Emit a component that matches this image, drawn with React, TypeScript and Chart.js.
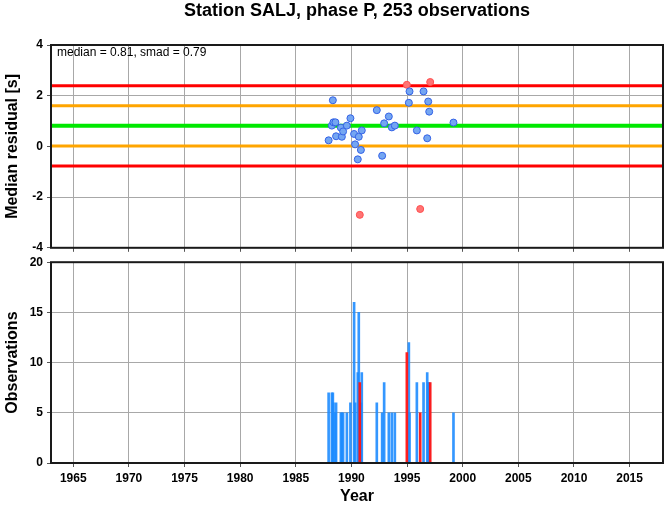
import React, { useEffect, useRef } from 'react';
import { Chart, registerables } from 'chart.js';

Chart.register(...registerables);

const TITLE = 'Station SALJ, phase P, 253 observations';
const MEDIAN = 0.81;
const SMAD = 0.79;
const X_MIN = 1963;
const X_MAX = 2018;

const yearTicks = [1965, 1970, 1975, 1980, 1985, 1990, 1995, 2000, 2005, 2010, 2015];
const residualTicks = [-4, -2, 0, 2, 4];
const countTicks = [0, 5, 10, 15, 20];

const blueYears = [1987.95, 1988.24, 1988.33, 1988.38, 1988.56, 1988.62, 1989.05, 1989.14, 1989.25, 1989.59, 1989.91, 1990.24, 1990.33, 1990.57, 1990.66, 1990.85, 1990.93, 1992.28, 1992.76, 1992.94, 1993.36, 1993.63, 1993.9, 1995.16, 1995.22, 1995.88, 1996.48, 1996.81, 1996.9, 1996.99, 1999.17];
const blueResiduals = [0.24, 0.82, 1.82, 0.95, 0.95, 0.40, 0.74, 0.38, 0.59, 0.82, 1.11, 0.49, 0.08, -0.51, 0.38, -0.14, 0.63, 1.43, -0.37, 0.91, 1.18, 0.75, 0.82, 1.72, 2.17, 0.63, 2.17, 0.32, 1.77, 1.37, 0.94];
const blueCounts = [7, 7, 7, 6, 5, 6, 5, 5, 5, 5, 6, 16, 6, 9, 15, 6, 9, 6, 5, 8, 5, 5, 5, 12, 5, 8, 8, 9, 8, 8, 5];

const redYears = [1990.75, 1994.98, 1996.18, 1997.08];
const redResiduals = [-2.70, 2.43, -2.47, 2.54];
const redCounts = [8, 11, 5, 8];

const FONT = '"Liberation Sans", Arial, Helvetica, sans-serif';

const boxPlugin = {
  id: 'box',
  afterDraw(chart: any) {
    const { ctx, chartArea: a } = chart;
    ctx.save();
    ctx.strokeStyle = '#1a1a1a';
    ctx.lineWidth = 2;
    ctx.strokeRect(a.left, a.top, a.right - a.left, a.bottom - a.top);
    ctx.restore();
  },
};

const textPlugin = {
  id: 'texts',
  afterDraw(chart: any) {
    const { ctx, chartArea: a } = chart;
    ctx.save();
    ctx.fillStyle = '#000';
    ctx.font = `bold 18px ${FONT}`;
    ctx.textAlign = 'center';
    ctx.textBaseline = 'middle';
    ctx.fillText(TITLE, (a.left + a.right) / 2, 11);
    ctx.font = `12px ${FONT}`;
    ctx.textAlign = 'left';
    ctx.fillText(`median = ${MEDIAN.toFixed(2)}, smad = ${SMAD.toFixed(2)}`, a.left + 6, a.top + 8);
    ctx.restore();
  },
};

const tickFont = { family: FONT, size: 12, weight: 'bold' as const };
const titleFont = { family: FONT, size: 16, weight: 'bold' as const };
const gridCfg = { color: '#a8a8a8', lineWidth: 1, tickLength: 4, tickColor: '#555' };

function levelLine(y: number, color: string, width: number) {
  return {
    type: 'line' as const,
    data: [{ x: X_MIN, y }, { x: X_MAX, y }],
    borderColor: color,
    borderWidth: width,
    pointRadius: 0,
    order: 2,
  };
}

export default function App() {
  const topRef = useRef<HTMLCanvasElement>(null);
  const botRef = useRef<HTMLCanvasElement>(null);

  useEffect(() => {
    const bluePts = blueYears.map((x, i) => ({ x, y: blueResiduals[i] }));
    const redPts = redYears.map((x, i) => ({ x, y: redResiduals[i] }));
    const blueBars = blueYears.map((x, i) => ({ x, y: blueCounts[i] }));
    const redBars = redYears.map((x, i) => ({ x, y: redCounts[i] }));

    const top = new Chart(topRef.current!, {
      type: 'scatter',
      data: {
        datasets: [
          levelLine(MEDIAN + 2 * SMAD, '#ff0000', 3),
          levelLine(MEDIAN + SMAD, '#ffa500', 3),
          levelLine(MEDIAN, '#00e800', 4),
          levelLine(MEDIAN - SMAD, '#ffa500', 3),
          levelLine(MEDIAN - 2 * SMAD, '#ff0000', 3),
          {
            type: 'scatter',
            data: bluePts,
            pointRadius: 3.5,
            backgroundColor: '#74a6f2',
            borderColor: '#3462e6',
            borderWidth: 1,
            order: 0,
          },
          {
            type: 'scatter',
            data: redPts,
            pointRadius: 3.5,
            backgroundColor: '#ff7474',
            borderColor: '#ff5050',
            borderWidth: 1,
            order: 0,
          },
        ] as any,
      },
      options: {
        responsive: false,
        animation: false,
        layout: { padding: { top: 45, right: 6, left: 0, bottom: 0 } },
        plugins: { legend: { display: false }, tooltip: { enabled: false } },
        scales: {
          x: {
            type: 'linear',
            min: X_MIN,
            max: X_MAX,
            afterBuildTicks: (s: any) => { s.ticks = yearTicks.map((v) => ({ value: v })); },
            ticks: { display: false },
            grid: gridCfg,
            border: { display: false },
            afterFit: (s: any) => { s.height = 7; },
          },
          y: {
            min: -4,
            max: 4,
            afterBuildTicks: (s: any) => { s.ticks = residualTicks.map((v) => ({ value: v })); },
            ticks: { font: tickFont, color: '#000', padding: 4 },
            grid: gridCfg,
            border: { display: false },
            title: { display: true, text: 'Median residual [s]', font: titleFont, color: '#000', padding: { top: 3, bottom: 0 } },
            afterFit: (s: any) => { s.width = 51; },
          },
        },
      } as any,
      plugins: [boxPlugin, textPlugin],
    });

    const bot = new Chart(botRef.current!, {
      type: 'bar',
      data: {
        datasets: [
          {
            data: blueBars,
            backgroundColor: 'rgba(30,140,255,0.9)',
            barThickness: 2,
            borderWidth: 0,
            grouped: false,
            order: 1,
          },
          {
            data: redBars,
            backgroundColor: 'rgba(255,20,20,0.95)',
            barThickness: 2,
            borderWidth: 0,
            grouped: false,
            order: 0,
          },
        ] as any,
      },
      options: {
        responsive: false,
        animation: false,
        layout: { padding: { top: 7, right: 6, left: 0, bottom: 0 } },
        plugins: { legend: { display: false }, tooltip: { enabled: false } },
        scales: {
          x: {
            type: 'linear',
            min: X_MIN,
            max: X_MAX,
            offset: false,
            afterBuildTicks: (s: any) => { s.ticks = yearTicks.map((v) => ({ value: v })); },
            ticks: { font: tickFont, color: '#000', padding: 4, maxRotation: 0, autoSkip: false, callback: (v: any) => String(v) },
            grid: { ...gridCfg, offset: false },
            border: { display: false },
            title: { display: true, text: 'Year', font: titleFont, color: '#000', padding: { top: 0, bottom: 4.5 } },
            afterFit: (s: any) => { s.height = 48; },
          },
          y: {
            min: 0,
            max: 20,
            afterBuildTicks: (s: any) => { s.ticks = countTicks.map((v) => ({ value: v })); },
            ticks: { font: tickFont, color: '#000', padding: 4 },
            grid: gridCfg,
            border: { display: false },
            title: { display: true, text: 'Observations', font: titleFont, color: '#000', padding: { top: 3, bottom: 0 } },
            afterFit: (s: any) => { s.width = 51; },
          },
        },
      } as any,
      plugins: [boxPlugin],
    });

    return () => {
      top.destroy();
      bot.destroy();
    };
  }, []);

  return (
    <div style={{ position: 'absolute', left: 0, top: 0, width: 669, height: 511, background: '#fff' }}>
      <canvas ref={topRef} width={669} height={259} style={{ position: 'absolute', left: 0, top: 0 }} />
      <canvas ref={botRef} width={669} height={260} style={{ position: 'absolute', left: 0, top: 251 }} />
    </div>
  );
}
